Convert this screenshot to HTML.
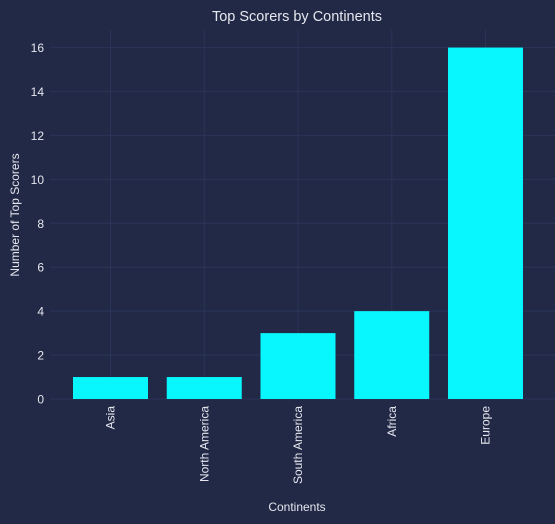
<!DOCTYPE html>
<html><head><meta charset="utf-8"><style>
body{margin:0;background:#212946;}
svg{display:block;font-family:"Liberation Sans",sans-serif;}
</style></head><body>
<svg id="c" width="555" height="524">
<rect width="555" height="524" fill="#212946"/>
<text x="297" y="21" fill="#e6e6ee" font-size="14.5" text-anchor="middle">Top Scorers by Continents</text>
<text x="297" y="511" fill="#e6e6ee" font-size="12" text-anchor="middle">Continents</text>
<text transform="translate(19,215) rotate(-90)" fill="#e6e6ee" font-size="12" text-anchor="middle">Number of Top Scorers</text>
<g id="grid"></g><g id="bars"></g><g id="ticks"></g>
</svg>
<script>
const categories=["Asia","North America","South America","Africa","Europe"];
const values=[1,1,3,4,16];
const yTicks=[0,2,4,6,8,10,12,14,16];
const L=54.25,R=541.75,T=30,B=399,yMax=16.8;
const step=(R-L)/5.2;
const x=i=>L+(i+0.6)*step;
const y=v=>B-(v/yMax)*(B-T);
const NS="http://www.w3.org/2000/svg";
const g=document.getElementById('grid'),bg=document.getElementById('bars'),tg=document.getElementById('ticks');
function mk(tag,a,p){const e=document.createElementNS(NS,tag);for(const k in a)e.setAttribute(k,a[k]);p.appendChild(e);return e;}
yTicks.forEach(t=>{
 const l=mk('line',{x1:50,x2:555,y1:y(t),y2:y(t),stroke:'#2A3459','stroke-width':1},g);
 
 
 const tx=mk('text',{x:44,y:y(t)+4.5,fill:'#e6e6ee','font-size':12,'text-anchor':'end'},tg);
 tx.textContent=t;
 
 
});
categories.forEach((c,i)=>{
 const l=mk('line',{x1:x(i),x2:x(i),y1:T,y2:B,stroke:'#2A3459','stroke-width':1},g);
 
 
 const w=step*0.8;
 const r=mk('rect',{x:x(i)-w/2,y:y(values[i]),width:w,height:B-y(values[i]),fill:'#08F7FE'},bg);
 
 
 const tx=mk('text',{transform:`translate(${x(i)+4},406) rotate(-90)`,fill:'#e6e6ee','font-size':12,'text-anchor':'end'},tg);
 tx.textContent=c;
 
 
});
</script>
</body></html>
